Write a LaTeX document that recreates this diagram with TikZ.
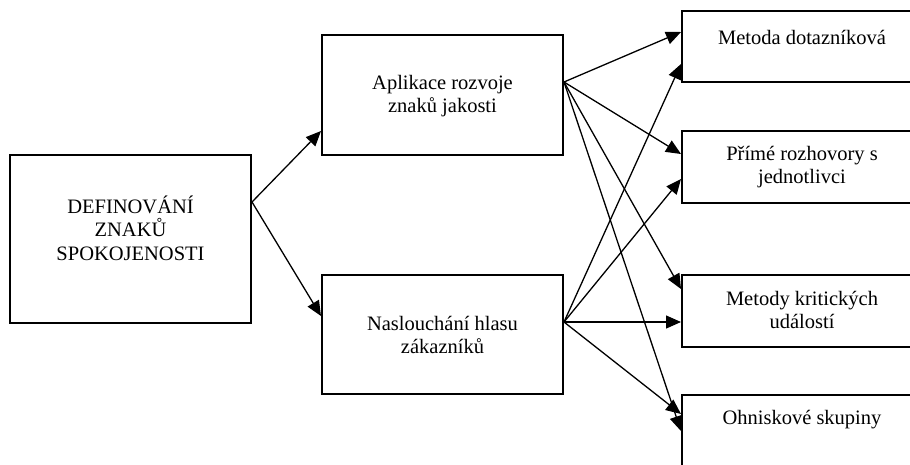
\documentclass[tikz,border=0pt]{standalone}
\usepackage{fontspec}
\setmainfont{Liberation Serif}
\usetikzlibrary{arrows.meta}
\begin{document}
\begin{tikzpicture}[x=1pt,y=-1pt,
  box/.style={draw, line width=2pt, rectangle, inner sep=0pt},
  lbl/.style={align=center, font=\fontsize{20.5}{23.5}\selectfont, inner sep=0pt},
  arr/.style={line width=1.3pt, -{Triangle[length=15pt,width=13pt]}}]
\useasboundingbox (0,0) rectangle (910,464);
\clip (0,0) rectangle (910,464);
% boxes
\node[box, minimum width=241pt, minimum height=168pt] (L) at (130.5,239) {};
\node[box, minimum width=241pt, minimum height=120pt] (A) at (442.5,95) {};
\node[box, minimum width=241pt, minimum height=119pt] (N) at (442.5,334.5) {};
\node[box, minimum width=240pt, minimum height=71pt] (R1) at (802,46.5) {};
\node[box, minimum width=240pt, minimum height=72pt] (R2) at (802,167) {};
\node[box, minimum width=240pt, minimum height=72pt] (R3) at (802,311) {};
\node[box, minimum width=240pt, minimum height=72pt] (R4) at (802,431) {};
% labels
\node[lbl] (tL) at (130.5,228) {DEFINOVÁNÍ\\ZNAKŮ\\SPOKOJENOSTI};
\node[lbl] (tA) at (442.5,96) {Aplikace rozvoje\\znaků jakosti};
\node[lbl] (tN) at (442.5,335) {Naslouchání hlasu\\zákazníků};
\node[lbl] (t1) at (802,37) {Metoda dotazníková};
\node[lbl] (t2) at (802,167) {Přímé rozhovory s\\jednotlivci};
\node[lbl] (t3) at (802,310) {Metody kritických\\událostí};
\node[lbl] (t4) at (802,420) {Ohniskové skupiny};
% connectors
\coordinate (Lo) at ([yshift=-48pt]L.north east);
\coordinate (Ao) at ([yshift=-48pt]A.north east);
\coordinate (No) at ([yshift=-48pt]N.north east);
\draw[arr] (Lo) -- ([yshift=-97pt]A.north west);
\draw[arr] (Lo) -- ([yshift=-42pt]N.north west);
\draw[arr] (Ao) -- ([yshift=-22pt]R1.north west);
\draw[arr] (Ao) -- ([yshift=-24pt]R2.north west);
\draw[arr] (Ao) -- ([yshift=-15pt]R3.north west);
\draw[arr] (Ao) -- ([yshift=-37pt]R4.north west);
\draw[arr] (No) -- ([yshift=-54pt]R1.north west);
\draw[arr] (No) -- ([yshift=-49pt]R2.north west);
\draw[arr] (No) -- ([yshift=-48pt]R3.north west);
\draw[arr] (No) -- ([yshift=-20pt]R4.north west);
\end{tikzpicture}
\end{document}
